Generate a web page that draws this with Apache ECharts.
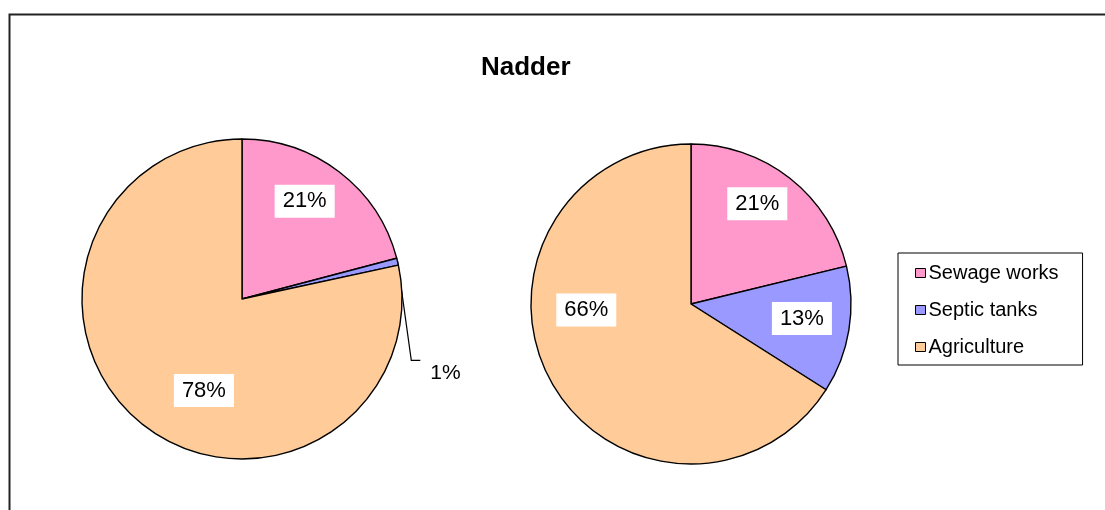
<!DOCTYPE html>
<html>
<head>
<meta charset="utf-8">
<script src="https://cdn.jsdelivr.net/npm/echarts@6/dist/echarts.min.js"></script>
<style>
  html, body { margin: 0; padding: 0; background: #fff; }
  #chart { width: 1105px; height: 510px; }
</style>
</head>
<body>
<div id="chart"></div>
<script>
// categories and shares (%)
const categories = ['Sewage works', 'Septic tanks', 'Agriculture']
const leftValues = [20.9, 0.7, 78.4]
const rightValues = [21.2, 12.8, 66.0]
const colors = ['#FF99CC', '#9999FF', '#FFCC99']

// nudges so the labels sit where excel put them
const leftLabelShift = [[12, -32], [8, 114], [14, 27]]
const rightLabelShift = [[15, -35], [29, 1], [-32, -34]]

const FONT = 'Liberation Sans, Arial, sans-serif'

let chart = echarts.init(document.getElementById('chart'), null, { renderer: 'canvas' })

let insideLabel = {
  show: true,
  position: 'inside',
  formatter: p => Math.round(p.percent) + '%',
  color: '#000',
  fontFamily: FONT,
  fontSize: 22,
  backgroundColor: '#fff',
  padding: [6, 8, 5, 8]
}

let makeData = (values, outsideIdx) => {
  return values.map((v, i) => {
    let item = { name: categories[i], value: v, itemStyle: { color: colors[i] } }
    if (i === outsideIdx) {
      item.label = {
        position: 'outside',
        backgroundColor: 'transparent',
        padding: 0,
        fontSize: 21,
        align: 'left'
      }
      item.labelLine = { show: true, length: 10, length2: 10, lineStyle: { color: '#000', width: 1.2 } }
    }
    return item
  })
}

let makeLayout = (shift, outsideIdx) => {
  return params => {
    let s = shift[params.dataIndex]
    if (params.dataIndex === outsideIdx) {
      let x = params.labelRect.x + s[0]
      let y = params.labelRect.y + params.labelRect.height / 2 + s[1]
      // excel style leader: edge of slice, down to the label, short tail
      let start = params.labelLinePoints ? params.labelLinePoints[0] : [x - 30, y - 100]
      return {
        x: x,
        y: y,
        align: 'left',
        verticalAlign: 'middle',
        labelLinePoints: [start, [x - 19, y - 13], [x - 10, y - 13]]
      }
    }
    return { dx: s[0], dy: s[1] }
  }
}

let pieBase = {
  type: 'pie',
  radius: 160,
  startAngle: 90,
  clockwise: true,
  avoidLabelOverlap: false,
  silent: true,
  animation: false,
  itemStyle: { borderColor: '#000', borderWidth: 1.4 },
  label: insideLabel,
  labelLine: { show: false }
}

let option = {
  backgroundColor: '#fff',
  animation: false,
  title: {
    text: 'Nadder',
    left: 481,
    top: 55,
    padding: 0,
    textStyle: { fontFamily: FONT, fontSize: 26, fontWeight: 'bold', color: '#000' }
  },
  legend: {
    orient: 'vertical',
    left: 898,
    top: 253,
    data: categories,
    icon: 'rect',
    itemWidth: 10,
    itemHeight: 9,
    itemGap: 17,
    padding: [10, 24, 8, 17],
    borderColor: '#000',
    borderWidth: 1,
    itemStyle: { borderColor: '#000', borderWidth: 1 },
    textStyle: { fontFamily: FONT, fontSize: 20, color: '#000', lineHeight: 20, padding: [0, 0, 0, -2] }
  },
  graphic: [{
    type: 'rect',
    left: 7,
    top: 12,
    shape: { width: 1110, height: 520 },
    style: { fill: 'none', stroke: '#222', lineWidth: 2 },
    silent: true
  }],
  series: [
    Object.assign({}, pieBase, {
      name: 'left',
      center: [242, 299],
      data: makeData(leftValues, 1),
      labelLayout: makeLayout(leftLabelShift, 1)
    }),
    Object.assign({}, pieBase, {
      name: 'right',
      center: [691, 304],
      data: makeData(rightValues, -1),
      labelLayout: makeLayout(rightLabelShift, -1)
    })
  ]
}

chart.setOption(option)
</script>
</body>
</html>
